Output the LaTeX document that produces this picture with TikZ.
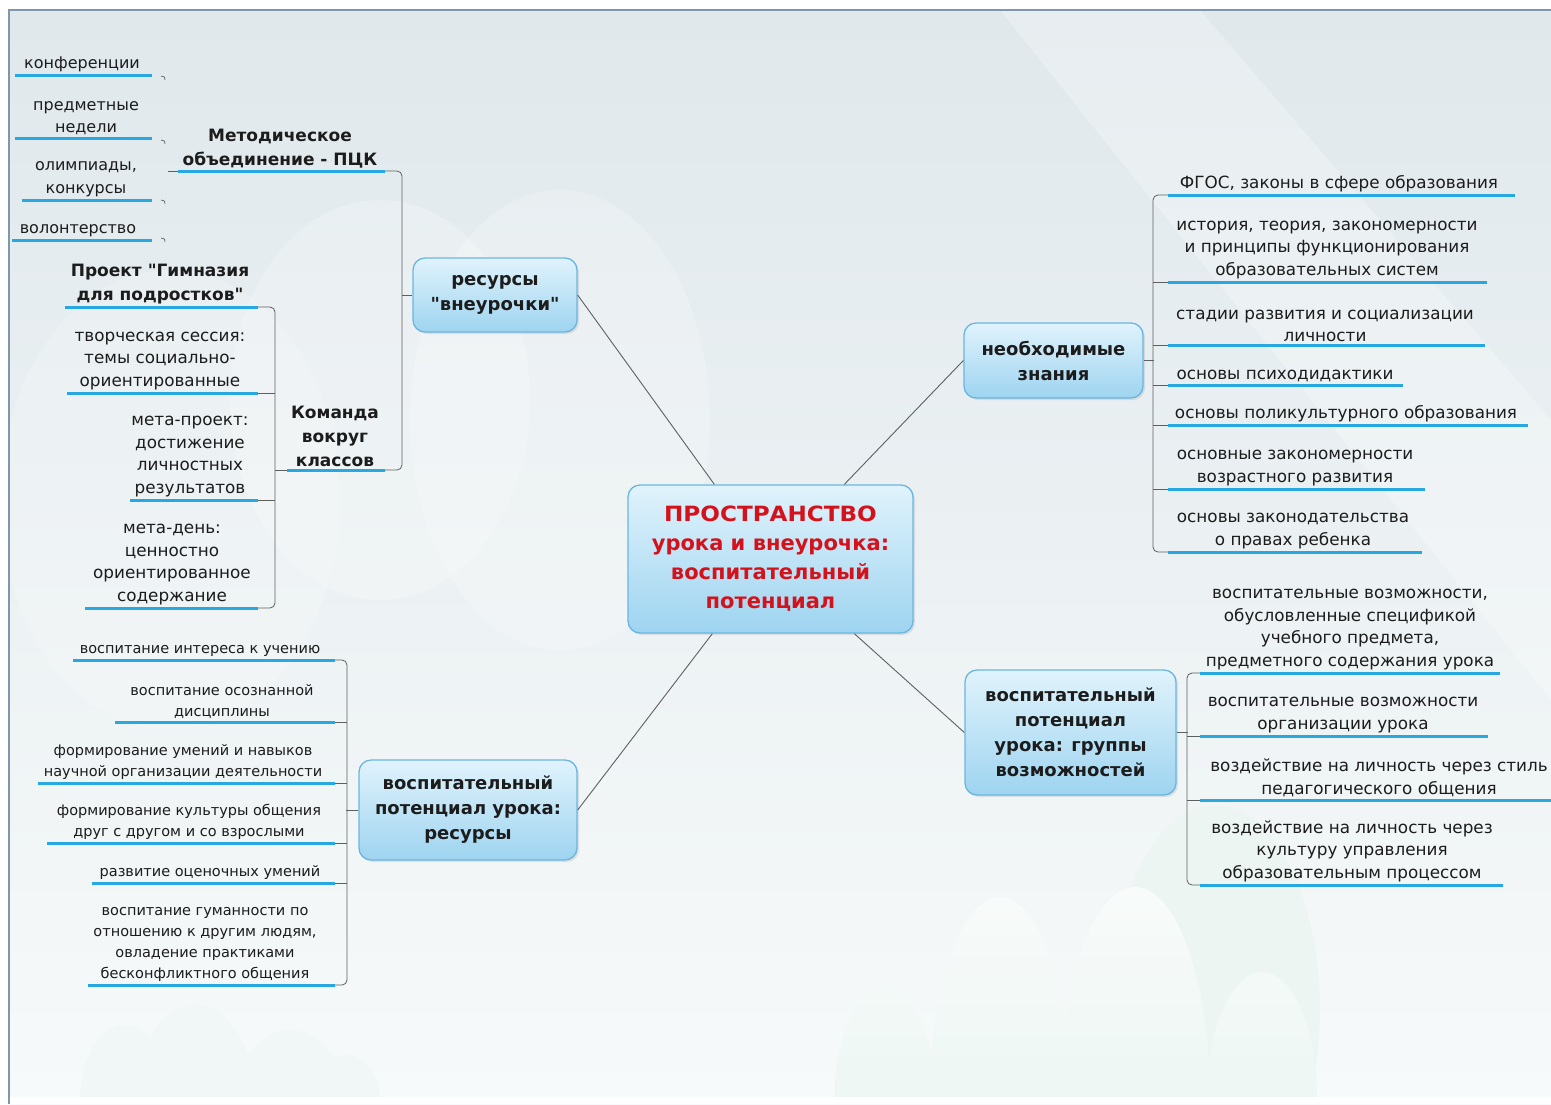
\documentclass[tikz,border=0pt]{standalone}
\usepackage{fontspec}
\setmainfont{DejaVu Sans}[Ligatures=TeXOff]
\usetikzlibrary{shadows,calc}
\definecolor{ublue}{RGB}{40,168,224}
\definecolor{boxline}{RGB}{105,182,226}
\definecolor{boxtop}{RGB}{224,243,252}
\definecolor{boxbot}{RGB}{158,212,240}
\definecolor{txt}{RGB}{28,28,28}
\definecolor{brc}{RGB}{95,95,95}
\definecolor{ctr}{RGB}{212,18,28}
\definecolor{bgtop}{RGB}{224,232,236}
\definecolor{bgbot}{RGB}{247,250,250}
\definecolor{frame}{RGB}{130,150,170}
\definecolor{cltop}{RGB}{248,251,250}
\definecolor{clbot}{RGB}{227,242,237}
\definecolor{clback}{RGB}{236,245,242}
\definecolor{clfaint}{RGB}{241,247,246}
\newcommand\uln[4]{\draw[uline] (#2,#4) coordinate (#1L) -- (#3,#4) coordinate (#1R);}
\begin{document}
\begin{tikzpicture}[x=1pt,y=-1pt,
  box/.style={draw=boxline, line width=1.3pt, rounded corners=12pt, top color=boxtop, bottom color=boxbot,
    align=center, text=txt, inner sep=0pt, font=\bfseries\fontsize{18}{25}\selectfont,
    drop shadow={opacity=0.18,shadow xshift=2pt,shadow yshift=-2pt}},
  leaf/.style={align=center, inner sep=0pt, anchor=south, text=txt, font=\fontsize{16.8}{22.5}\selectfont},
  mleaf/.style={leaf, font=\fontsize{16}{22.5}\selectfont},
  sleaf/.style={leaf, font=\fontsize{14.5}{21}\selectfont},
  bleaf/.style={leaf, font=\bfseries\fontsize{17}{24}\selectfont},
  uline/.style={draw=ublue, line width=3pt},
  br/.style={draw=brc, line width=0.8pt, rounded corners=5pt},
  conn/.style={draw=brc, line width=0.9pt}]
% background
\fill[white] (0,0) rectangle (1551,1104);
\useasboundingbox (0,0) rectangle (1551,1104);
\fill[top color=bgtop,bottom color=bgbot] (9,10) rectangle (1551,1104);
\begin{scope}
\clip (9,10) rectangle (1551,1097);
\fill[white,opacity=0.25] (1000,10) -- (1200,10) -- (1551,420) -- (1551,700) -- cycle;
\fill[white,opacity=0.22] (380,400) ellipse[x radius=150, y radius=200];
\fill[white,opacity=0.22] (560,420) ellipse[x radius=150, y radius=230];
\fill[white,opacity=0.18] (170,500) ellipse[x radius=170, y radius=230];
\fill[clback] (1215,1010) ellipse[x radius=105, y radius=205];
\shade[top color=cltop, bottom color=clbot] (885,1097) ellipse[x radius=50, y radius=110]
  (1000,1097) ellipse[x radius=70, y radius=200] (1135,1097) ellipse[x radius=75, y radius=210]
  (1262,1097) ellipse[x radius=55, y radius=125];
\fill[clfaint] (125,1100) ellipse[x radius=45, y radius=75] (195,1100) ellipse[x radius=60, y radius=95]
  (290,1100) ellipse[x radius=55, y radius=70] (345,1100) ellipse[x radius=35, y radius=45];
\end{scope}
\fill[white] (9,1097) rectangle (1551,1104);
\draw[frame, line width=1.2pt] (9,1104) -- (9,10) -- (1551,10);

% main nodes
\node[box, minimum width=285pt, minimum height=148pt, text=ctr, font=\bfseries\fontsize{21}{29}\selectfont]
  (c) at (770.5,559) {\scalebox{1.1}[1]{ПРОСТРАНСТВО}\\урока и внеурочка:\\воспитательный\\потенциал};
\node[box, minimum width=164pt, minimum height=74pt] (res) at (495,295) {ресурсы\\"внеурочки"};
\node[box, minimum width=179pt, minimum height=75pt] (zn) at (1053.5,360.5) {необходимые\\знания};
\node[box, minimum width=211pt, minimum height=125pt] (grp) at (1070.5,732.5) {воспитательный\\потенциал\\урока: группы\\возможностей};
\node[box, minimum width=218pt, minimum height=100pt] (lres) at (468,810) {воспитательный\\потенциал урока:\\ресурсы};

\draw[conn] ([xshift=87pt]c.north west) -- (res.east);
\draw[conn] ([xshift=217pt]c.north west) -- (zn.west);
\draw[conn] ([xshift=227pt]c.south west) -- (grp.west);
\draw[conn] ([xshift=85pt]c.south west) -- (lres.east);

% ---- ресурсы внеурочки branch
\node[bleaf] (met) at (280,168) {Методическое\\объединение - ПЦК};
\uln{met}{178}{385}{171}
\node[bleaf] (kom) at (335,467) {Команда\\вокруг\\классов};
\uln{kom}{287}{385}{470}
\draw[br] (metR) -- ++(17,0) -- ($(komR)+(17,0)$) -- (komR);
\coordinate (resb) at (402,295);
\draw[br] (res.west) -- (resb);

\node[mleaf] (m1) at (82,72) {конференции};
\uln{m1}{15}{152}{75}
\node[mleaf] (m2) at (86,135) {предметные\\недели};
\uln{m2}{15}{152}{138}
\node[mleaf] (m3) at (86,197) {олимпиады,\\конкурсы};
\uln{m3}{22}{152}{200}
\node[mleaf] (m4) at (78,237) {волонтерство};
\uln{m4}{12}{152}{240}
\foreach \yy in {76,140,200,238}{\draw[brc, line width=0.7pt] (161,\yy) .. controls (165,\yy+1) .. (165,\yy+4);}
\draw[brc, line width=0.7pt] (metL) -- ++(-10,0);

\node[bleaf] (k1) at (160,304) {Проект "Гимназия\\для подростков"};
\uln{k1}{65}{258}{307}
\node[leaf] (k2) at (160,390) {творческая сессия:\\темы социально-\\ориентированные};
\uln{k2}{67}{258}{393}
\node[leaf] (k3) at (190,497) {мета-проект:\\достижение\\личностных\\результатов};
\uln{k3}{130}{258}{500}
\node[leaf] (k4) at (172,605) {мета-день:\\ценностно\\ориентированное\\содержание};
\uln{k4}{85}{258}{608}
\draw[br] (k1R) -- ++(17,0) -- ($(k4R)+(17,0)$) -- (k4R);
\draw[br] (k2R) -- ++(17,0);
\draw[br] (k3R) -- ++(17,0);
\draw[br] (komL) -- ++(-12,0);

% ---- левый нижний
\node[sleaf] (b1) at (200,657) {воспитание интереса к учению};
\uln{b1}{73}{335}{660}
\node[sleaf] (b2) at (222,719) {воспитание осознанной\\дисциплины};
\uln{b2}{115}{335}{722}
\node[sleaf] (b3) at (183,780) {формирование умений и навыков\\научной организации деятельности};
\uln{b3}{38}{335}{783}
\node[sleaf] (b4) at (189,840) {формирование культуры общения\\друг с другом и со взрослыми};
\uln{b4}{47}{335}{843}
\node[sleaf] (b5) at (210,880) {развитие оценочных умений};
\uln{b5}{92}{335}{883}
\node[sleaf] (b6) at (205,982) {воспитание гуманности по\\отношению к другим людям,\\овладение практиками\\бесконфликтного общения};
\uln{b6}{88}{335}{985}
\draw[br] (b1R) -- ++(12,0) -- ($(b6R)+(12,0)$) -- (b6R);
\foreach \n in {b2,b3,b4,b5}{\draw[br] (\n R) -- ++(12,0);}
\draw[br] (lres.west) -- ++(-12,0);

% ---- необходимые знания
\node[leaf] (z1) at (1339,192) {ФГОС, законы в сфере образования};
\uln{z1}{1168}{1515}{195}
\node[leaf] (z2) at (1327,279) {история, теория, закономерности\\и принципы функционирования\\образовательных систем};
\uln{z2}{1168}{1487}{282}
\node[leaf] (z3) at (1325,342) {стадии развития и социализации\\личности};
\uln{z3}{1168}{1485}{345}
\node[leaf] (z4) at (1285,382) {основы психодидактики};
\uln{z4}{1168}{1403}{385}
\node[leaf] (z5) at (1346,422) {основы поликультурного образования};
\uln{z5}{1168}{1528}{425}
\node[leaf] (z6) at (1295,486) {основные закономерности\\возрастного развития};
\uln{z6}{1168}{1425}{489}
\node[leaf] (z7) at (1293,549) {основы законодательства\\о правах ребенка};
\uln{z7}{1168}{1422}{552}
\draw[br] (z1L) -- ++(-15,0) -- ($(z7L)+(-15,0)$) -- (z7L);
\foreach \n in {z2,z3,z4,z5,z6}{\draw[br] (\n L) -- ++(-15,0);}
\draw[br] (zn.east) -- ++(10,0);

% ---- группы возможностей
\node[leaf] (g1) at (1350,670) {воспитательные возможности,\\обусловленные спецификой\\учебного предмета,\\предметного содержания урока};
\uln{g1}{1200}{1500}{673}
\node[leaf] (g2) at (1343,733) {воспитательные возможности\\организации урока};
\uln{g2}{1200}{1488}{736}
\node[leaf] (g3) at (1379,797) {воздействие на личность через стиль\\педагогического общения};
\uln{g3}{1200}{1551}{800}
\node[leaf] (g4) at (1352,882) {воздействие на личность через\\культуру управления\\образовательным  процессом};
\uln{g4}{1200}{1503}{885}
\draw[br] (g1L) -- ++(-13,0) -- ($(g4L)+(-13,0)$) -- (g4L);
\foreach \n in {g2,g3}{\draw[br] (\n L) -- ++(-13,0);}
\draw[br] (grp.east) -- ++(11,0);
\end{tikzpicture}
\end{document}
